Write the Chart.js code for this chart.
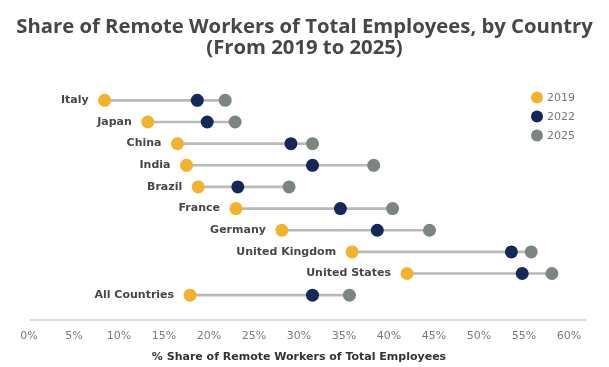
<!DOCTYPE html>
<html>
<head>
<meta charset="utf-8">
<title>Remote workers share</title>
<script src="https://cdn.jsdelivr.net/npm/chart.js@4.4.1/dist/chart.umd.min.js"></script>
<style>
  html, body { margin: 0; padding: 0; background: #fff; }
  #wrap { width: 609px; height: 367px; }
</style>
</head>
<body>
<div id="wrap"><canvas id="myChart" width="609" height="367"></canvas></div>
<script>
// share of remote workers (% of total employees)
const countries = ['Italy', 'Japan', 'China', 'India', 'Brazil', 'France', 'Germany',
  'United Kingdom', 'United States', 'All Countries'];
const share2019 = [8.4, 13.2, 16.5, 17.5, 18.8, 23.0, 28.1, 35.9, 42.0, 17.9];
const share2022 = [18.7, 19.8, 29.1, 31.5, 23.2, 34.6, 38.7, 53.6, 54.8, 31.5];
const share2025 = [21.8, 22.9, 31.5, 38.3, 28.9, 40.4, 44.5, 55.8, 58.1, 35.6];
const years = ['2019', '2022', '2025'];
const yearColors = ['#f2b22c', '#14295a', '#7d8581'];

// grey bar joining the first and last year of each row
const spans = countries.map((c, i) => {
  const v = [share2019[i], share2022[i], share2025[i]];
  return [Math.min(...v), Math.max(...v)];
});

// country names sit just left of the 2019 dot
const rowLabels = {
  id: 'rowLabels',
  afterDatasetsDraw(chart) {
    const { ctx, scales: { x, y } } = chart;
    ctx.save();
    ctx.font = 'bold 11px "DejaVu Sans"';
    ctx.fillStyle = '#474747';
    ctx.textAlign = 'right';
    ctx.textBaseline = 'middle';
    countries.forEach((c, i) => {
      ctx.fillText(c, x.getPixelForValue(share2019[i]) - 16, y.getPixelForValue(i));
    });
    ctx.restore();
  }
};

// axis line under the rows plus the year legend in the top right
const extras = {
  id: 'extras',
  beforeDatasetsDraw(chart) {
    const { ctx, chartArea } = chart;
    ctx.save();
    ctx.strokeStyle = '#dcdcdc';
    ctx.lineWidth = 2;
    ctx.beginPath();
    ctx.moveTo(chartArea.left + 1, chartArea.bottom + 14);
    ctx.lineTo(chart.width - 22, chartArea.bottom + 14);
    ctx.stroke();
    ctx.restore();
  },
  afterDraw(chart) {
    const { ctx, chartArea } = chart;
    ctx.save();
    ctx.font = '11px "DejaVu Sans"';
    ctx.textBaseline = 'middle';
    ctx.textAlign = 'left';
    years.forEach((yr, i) => {
      const cx = chartArea.right - 32;
      const cy = chartArea.top + 8 + i * 19;
      ctx.fillStyle = yearColors[i];
      ctx.beginPath();
      ctx.arc(cx, cy, 6, 0, Math.PI * 2);
      ctx.fill();
      ctx.fillStyle = '#777';
      ctx.fillText(yr, cx + 10, cy + 1);
    });
    ctx.restore();
  }
};

const pointSet = (label, data, color, order) => ({
  type: 'line',
  label: label,
  data: data,
  showLine: false,
  pointRadius: 6.5,
  pointHoverRadius: 6.5,
  pointBackgroundColor: color,
  pointBorderWidth: 0,
  borderColor: color,
  order: order
});

const ctx = document.getElementById('myChart');
const myChart = new Chart(ctx, {
  type: 'bar',
  data: {
    labels: countries,
    datasets: [
      {
        label: 'span',
        data: spans,
        backgroundColor: '#b9b9b9',
        barThickness: 2,
        borderSkipped: false,
        order: 10
      },
      pointSet(years[2], share2025, yearColors[2], 3),
      pointSet(years[1], share2022, yearColors[1], 2),
      pointSet(years[0], share2019, yearColors[0], 1)
    ]
  },
  options: {
    indexAxis: 'y',
    responsive: false,
    animation: false,
    layout: { padding: { left: 0, right: 0, top: 6, bottom: 3 } },
    plugins: {
      legend: { display: false },
      tooltip: { enabled: false },
      title: {
        display: true,
        text: ['Share of Remote Workers of Total Employees, by Country', '(From 2019 to 2025)'],
        color: '#474747',
        font: { family: '"Open Sans"', size: 20.3, weight: 'bold', lineHeight: 1.03 },
        padding: { top: 11, bottom: 30.7 }
      }
    },
    scales: {
      x: {
        min: 0,
        max: 60,
        grid: { display: false, drawTicks: false },
        border: { display: false },
        // side margins of the plot
        afterFit(scale) {
          scale.paddingLeft = 29;
          scale.paddingRight = 40;
        },
        ticks: {
          stepSize: 5,
          padding: 24,
          color: '#7a7a7a',
          font: { family: '"DejaVu Sans"', size: 11 },
          callback: v => v + '%'
        },
        title: {
          display: true,
          text: '% Share of Remote Workers of Total Employees',
          color: '#333',
          font: { family: '"DejaVu Sans"', size: 11, weight: 'bold' },
          padding: { top: -16.4, bottom: 0 }
        }
      },
      y: {
        display: false
      }
    }
  },
  plugins: [rowLabels, extras]
});
</script>
</body>
</html>
